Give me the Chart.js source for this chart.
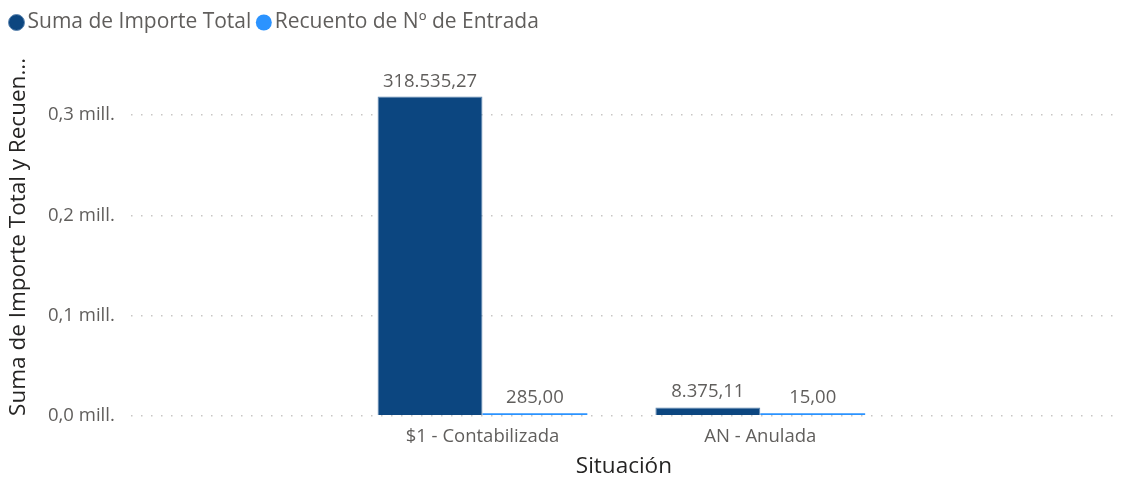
<!DOCTYPE html>
<html>
<head>
<meta charset="utf-8">
<script src="https://cdn.jsdelivr.net/npm/chart.js@4/dist/chart.umd.min.js"></script>
<style>
  html, body { margin: 0; padding: 0; background: #fff; }
  #wrap { width: 1121px; height: 480px; }
</style>
</head>
<body>
<div id="wrap"><canvas id="chart"></canvas></div>
<script>
// data
const categories = ["$1 - Contabilizada", "AN - Anulada"];
const importeTotal = [318535.27, 8375.11];
const recuentoEntrada = [285, 15];
const yTicks = [0, 100000, 200000, 300000];

const FONT = "'Open Sans', 'Noto Sans', sans-serif";
// Power BI style: 1.234,56 (groups also 4 digit numbers)
const fmtNum = v => {
  const parts = v.toFixed(2).split(".");
  return parts[0].replace(/\B(?=(\d{3})+(?!\d))/g, ".") + "," + parts[1];
};

const valueLabels = {
  id: "valueLabels",
  afterDatasetsDraw(chart) {
    const ctx = chart.ctx;
    ctx.save();
    ctx.font = "18.5px " + FONT;
    ctx.fillStyle = "#605E5C";
    ctx.textAlign = "center";
    ctx.textBaseline = "bottom";
    chart.data.datasets.forEach((ds, di) => {
      chart.getDatasetMeta(di).data.forEach((bar, i) => {
        ctx.fillText(fmtNum(ds.data[i].y), bar.x, bar.y - 6);
      });
    });
    ctx.restore();
  }
};

// extra room between the legend and the plot
const legendGap = {
  id: "legendGap",
  beforeInit(chart) {
    const fit = chart.legend.fit;
    chart.legend.fit = function () {
      fit.call(this);
      this.height += 15;
    };
  }
};

new Chart(document.getElementById("chart"), {
  type: "bar",
  data: {
    datasets: [
      {
        label: "Suma de Importe Total",
        data: importeTotal.map((v, i) => ({ x: i, y: v })),
        backgroundColor: "#0C4680",
        borderColor: "#5E86B0",
        borderWidth: 1,
        borderSkipped: "bottom",
      },
      {
        label: "Recuento de Nº de Entrada",
        data: recuentoEntrada.map((v, i) => ({ x: i, y: v })),
        backgroundColor: "#2B93FF",
        minBarLength: 2.5,
      },
    ],
  },
  options: {
    responsive: true,
    maintainAspectRatio: false,
    animation: false,
    categoryPercentage: 0.755,
    barPercentage: 1.0,
    layout: { padding: { left: 4, right: 4, top: 0, bottom: 0 } },
    plugins: {
      tooltip: { enabled: false },
      legend: {
        position: "top",
        align: "start",
        labels: {
          usePointStyle: true,
          pointStyle: "circle",
          boxWidth: 1,
          boxHeight: 11.3,
          padding: 12,
          color: "#605E5C",
          font: { family: FONT, size: 21 },
        },
      },
    },
    scales: {
      x: {
        type: "linear",
        min: -1.266,
        max: 2.284,
        offset: false,
        grid: { display: false },
        border: { display: false },
        afterBuildTicks: scale => { scale.ticks = categories.map((_, i) => ({ value: i })); },
        ticks: {
          autoSkip: false,
          maxRotation: 0,
          padding: 2,
          color: "#605E5C",
          font: { family: FONT, size: 18.5 },
          callback: v => categories[v] ?? "",
        },
        title: {
          display: true,
          text: "Situación",
          color: "#252423",
          font: { family: FONT, size: 22.5 },
          padding: { top: 3, bottom: 0 },
        },
      },
      y: {
        min: 0,
        max: 357000,
        afterBuildTicks: scale => { scale.ticks = yTicks.map(v => ({ value: v })); },
        grid: {
          color: "#C8C6C4",
          lineWidth: 1.5,
          drawTicks: false,
        },
        border: { display: false, dash: [1.5, 8.5] },
        ticks: {
          padding: 16,
          color: "#605E5C",
          font: { family: FONT, size: 18.5 },
          callback: v => (v / 1e6).toFixed(1).replace(".", ",") + " mill.",
        },
        title: {
          display: true,
          text: "Suma de Importe Total y Recuen...",
          color: "#252423",
          font: { family: FONT, size: 22.5 },
          padding: { top: 1, bottom: 0 },
        },
      },
    },
  },
  plugins: [valueLabels, legendGap],
});
</script>
</body>
</html>
